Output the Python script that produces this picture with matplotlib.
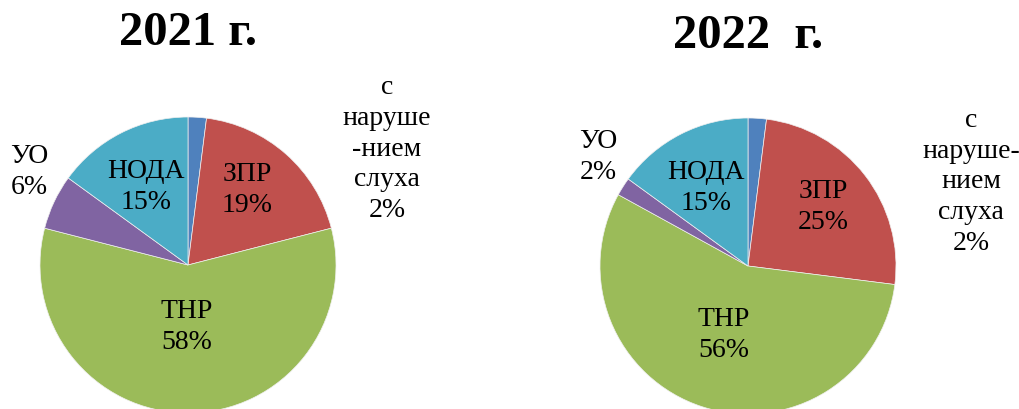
import matplotlib
matplotlib.use("Agg")
import matplotlib.pyplot as plt

plt.rcParams['font.family'] = ['Liberation Serif', 'DejaVu Serif']

categories = ["с нарушением слуха", "ЗПР", "ТНР", "УО", "НОДА"]
values_2021 = [2, 19, 58, 6, 15]
values_2022 = [2, 25, 56, 2, 15]
titles = ["2021 г.", "2022  г."]
colors = ["#4F81BD", "#C0504D", "#9BBB59", "#8064A2", "#4BACC6"]

labels_2021 = ["с\nнаруше\n-нием\nслуха\n2%", "ЗПР\n19%", "ТНР\n58%", "УО\n6%", "НОДА\n15%"]
labels_2022 = ["с\nнаруше-\nнием\nслуха\n2%", "ЗПР\n25%", "ТНР\n56%", "УО\n2%", "НОДА\n15%"]

W, H = 1019, 410
fig = plt.figure(figsize=(W / 100, H / 100), dpi=100)

R = 148
pies = [
    dict(cx=188, cy=266, vals=values_2021, labels=labels_2021, title=titles[0], ty=33,
         lpos=[(387, 149), (247, 190), (187, 327), (29, 172), (146, 187)]),
    dict(cx=748, cy=267, vals=values_2022, labels=labels_2022, title=titles[1], ty=36,
         lpos=[(971, 182), (823, 207), (724, 335), (598, 157), (706, 188)]),
]

for p in pies:
    cx, cy = p["cx"], p["cy"]
    ax = fig.add_axes([(cx - R) / W, (H - cy - R) / H, 2 * R / W, 2 * R / H])
    ax.pie(p["vals"], colors=colors, startangle=90, counterclock=False,
           radius=1, wedgeprops=dict(linewidth=0.5, edgecolor="#f0f0f0"))
    ax.set_xlim(-1, 1)
    ax.set_ylim(-1, 1)
    ax.set_aspect("auto")
    ax.axis("off")
    for lab, (px, py) in zip(p["labels"], p["lpos"]):
        ax.text((px - cx) / R, (cy - py) / R, lab, ha="center", va="center",
                fontsize=20, linespacing=1.3, color="black", clip_on=False)
    fig.text(cx / W, 1 - p["ty"] / H, p["title"], ha="center", va="center",
             fontsize=35, fontweight="bold")

fig.savefig("out.png", dpi=100)
